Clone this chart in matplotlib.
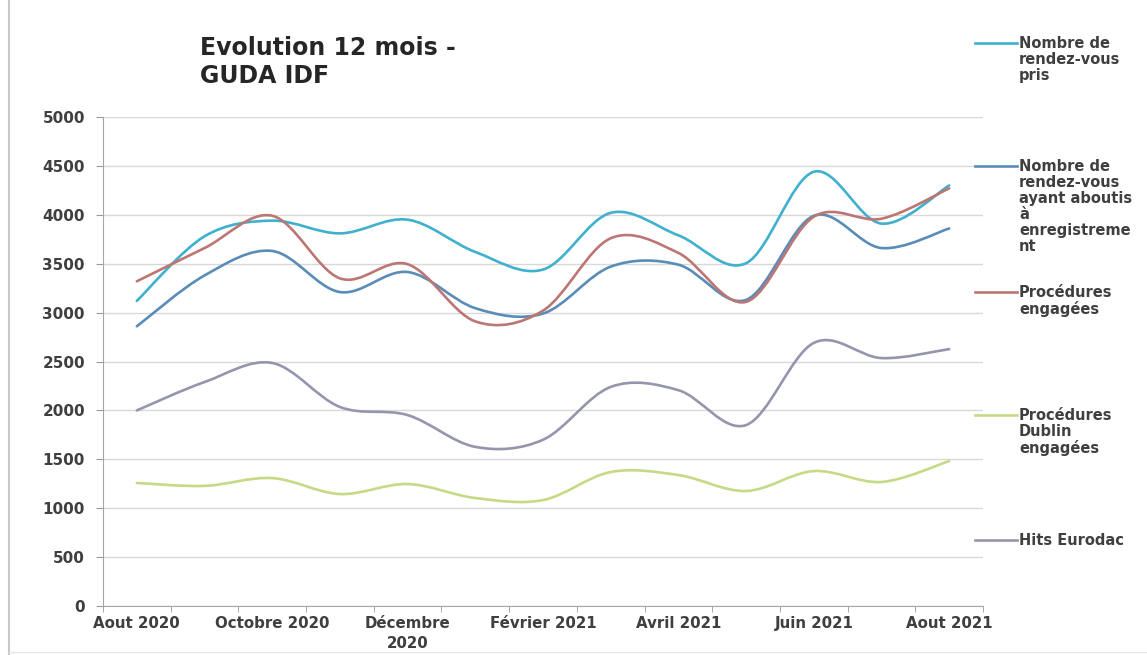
import numpy as np
import matplotlib.pyplot as plt
from matplotlib.path import Path
from matplotlib.patches import PathPatch
from matplotlib.lines import Line2D

months = ["Aout 2020", "Sept 2020", "Octobre 2020", "Nov 2020", "Décembre\n2020",
          "Janv 2021", "Février 2021", "Mars 2021", "Avril 2021", "Mai 2021",
          "Juin 2021", "Juil 2021", "Aout 2021"]

rdv_pris = [3120, 3780, 3940, 3810, 3950, 3620, 3440, 4020, 3790, 3505, 4440, 3910, 4300]
rdv_aboutis = [2860, 3380, 3630, 3210, 3415, 3045, 2990, 3470, 3490, 3130, 3990, 3660, 3860]
procedures = [3320, 3660, 3990, 3350, 3495, 2910, 3020, 3760, 3610, 3110, 3980, 3960, 4270]
dublin = [1258, 1228, 1308, 1145, 1247, 1104, 1083, 1370, 1339, 1176, 1380, 1268, 1482]
eurodac = [2000, 2290, 2485, 2035, 1952, 1627, 1700, 2240, 2207, 1850, 2690, 2535, 2627]

labels = ["Nombre de\nrendez-vous\npris",
          "Nombre de\nrendez-vous\nayant aboutis\nà\nenregistreme\nnt",
          "Procédures\nengagées",
          "Procédures\nDublin\nengagées",
          "Hits Eurodac"]
series = [rdv_pris, rdv_aboutis, procedures, dublin, eurodac]
colors = ["#3FB0CE", "#5A8CB8", "#BC7674", "#C6DA86", "#9595AE"]

txt = "#3f3f3f"


def smooth_path(y):
    # bezier curve through the points, like Excel's smoothed lines
    p = np.column_stack([np.arange(len(y)), np.asarray(y, float)])
    ext = np.vstack([p[0], p, p[-1]])
    verts = [p[0]]
    codes = [Path.MOVETO]
    for i in range(len(p) - 1):
        c1 = ext[i + 1] + (ext[i + 2] - ext[i]) / 6
        c2 = ext[i + 2] - (ext[i + 3] - ext[i + 1]) / 6
        verts += [c1, c2, p[i + 1]]
        codes += [Path.CURVE4] * 3
    return Path(verts, codes)


fig = plt.figure(figsize=(11.47, 6.55), dpi=100)
ax = fig.add_axes([103 / 1147, 1 - 606 / 655, 880 / 1147, 489 / 655])

for y, c in zip(series, colors):
    ax.add_patch(PathPatch(smooth_path(y), facecolor="none", edgecolor=c,
                           lw=1.9, capstyle="round", joinstyle="round", zorder=3))

ax.set_xlim(-0.5, len(months) - 0.5)
ax.set_ylim(0, 5000)
ax.set_yticks(np.arange(0, 5001, 500))
ax.yaxis.grid(True, color="#d9d9d9", lw=1)
ax.set_axisbelow(True)

ax.set_xticks(range(0, len(months), 2))
ax.set_xticklabels(months[::2], fontsize=10.8, fontweight="bold", color=txt,
                   linespacing=1.45)
ax.set_xticks(np.arange(-0.5, len(months), 1), minor=True)
ax.tick_params(axis="x", which="major", length=0, pad=7)
ax.tick_params(axis="x", which="minor", length=4, color="#999999", direction="out")
ax.tick_params(axis="y", length=5, color="#999999", pad=8, labelsize=11)
for t in ax.get_yticklabels():
    t.set_fontweight("bold")
    t.set_color(txt)

for s in ["top", "right"]:
    ax.spines[s].set_visible(False)
for s in ["left", "bottom"]:
    ax.spines[s].set_color("#a6a6a6")

fig.text(200 / 1147, 1 - 36 / 655, "Evolution 12 mois -\nGUDA IDF", fontsize=17,
         fontweight="bold", color="#262626", va="top", ha="left", linespacing=1.2)

# legend on the right side
leg_y = [43, 166, 292, 415, 540]
for lab, c, yy in zip(labels, colors, leg_y):
    yf = 1 - yy / 655
    fig.add_artist(Line2D([975 / 1147, 1017 / 1147], [yf, yf], color=c, lw=1.9,
                          transform=fig.transFigure))
    fig.text(1019 / 1147, yf + 7 / 655, lab, fontsize=10.5, fontweight="bold",
             color=txt, va="top", ha="left", linespacing=1.08)

# scan border
fig.add_artist(Line2D([9 / 1147, 9 / 1147], [0, 1], color="#c8c8c8", lw=1.5,
                      transform=fig.transFigure))
fig.add_artist(Line2D([9 / 1147, 1], [3 / 655, 3 / 655], color="#e6e6e6", lw=1,
                      transform=fig.transFigure))

fig.savefig("out.png", dpi=100)
